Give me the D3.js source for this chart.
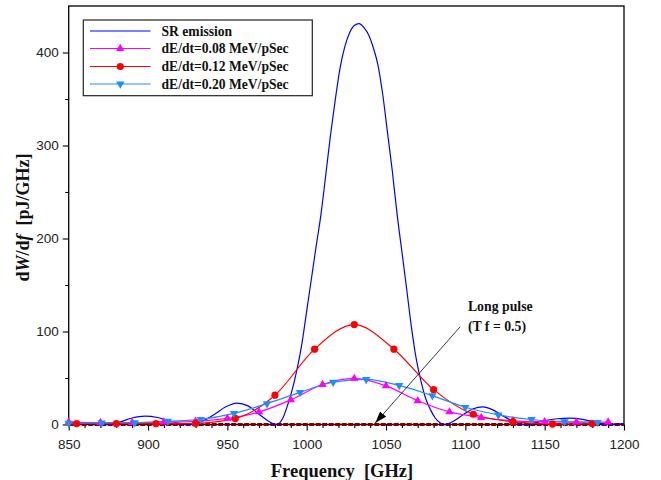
<!DOCTYPE html>
<html>
<head>
<meta charset="utf-8">
<script src="https://cdn.jsdelivr.net/npm/d3@7"></script>
<style>
  html, body { margin: 0; padding: 0; background: #fff; }
  svg { display: block; }
  text { white-space: pre; }
</style>
</head>
<body>
<div id="chart"></div>
<script>
// Spectral energy density dW/df of the emitted pulse versus frequency.

// Frequency axis ticks (GHz)
const xMajorTicks = [850, 900, 950, 1000, 1050, 1100, 1150, 1200];
const yMajorTicks = [0, 100, 200, 300, 400];

// SR emission spectrum (sampled curve)
const srFreq = [850, 860, 868, 875, 882, 890, 898, 906, 914, 920, 927, 935, 942, 949, 956, 963, 970, 976, 981,
  985, 988, 991, 994, 997, 1000, 1003, 1006, 1009, 1012, 1015, 1018, 1021, 1024, 1027, 1030, 1033, 1036, 1039,
  1042, 1045, 1048, 1051, 1054, 1057, 1060, 1063, 1066, 1069, 1072, 1075, 1078, 1081, 1084, 1087,
  1093, 1099, 1105, 1111, 1117, 1123, 1130, 1137, 1143, 1150, 1158, 1166, 1174, 1182, 1189, 1195, 1200];
const srValues = [2.5, 1.5, 0.4, 0, 2.5, 7, 9, 7.5, 3.5, 1.2, 0, 4, 11, 19, 23, 20, 11, 3.5, 0,
  7, 21, 38, 60, 87, 122, 157, 192, 226, 268, 311, 349, 383, 406, 421, 429, 431, 427, 419,
  405, 386, 354, 313, 272, 226, 186, 146, 105, 71, 47, 28, 16, 7, 2, 0,
  4, 11, 17, 19, 16, 10, 3.5, 0, 1.5, 4, 6.2, 6.8, 5.5, 2.5, 0, 0.5, 1];

// dE/dt = 0.08 MeV/pSec
const freq008 = [850, 870, 890, 910, 930, 950, 970, 990, 1010, 1030, 1050, 1070, 1090, 1110, 1130, 1150, 1170, 1190];
const values008 = [2.5, 2, 2, 2.5, 3.5, 6.5, 13.5, 26.5, 43, 49.5, 41.5, 25.5, 13.5, 7.5, 4, 3, 2.5, 2.5];

// dE/dt = 0.12 MeV/pSec
const freq012 = [855, 880, 905, 930, 955, 980, 1005, 1030, 1055, 1080, 1105, 1130, 1155, 1180];
const values012 = [1, 1, 1, 1.2, 6.5, 31.5, 81, 107.5, 81, 37.5, 11, 3, 0.5, 1];

// dE/dt = 0.20 MeV/pSec
const freq020 = [850, 870.8, 891.7, 912.5, 933.3, 954.2, 975, 995.8, 1016.7, 1037.5, 1058.3, 1079.2, 1100, 1120.8, 1141.7, 1162.5, 1183.3];
const values020 = [1.5, 1.8, 2, 3.5, 5.6, 12, 22.5, 34.5, 45.5, 48.5, 42, 31, 18.5, 10.3, 5.4, 3, 2.2];

// Long pulse (T f = 0.5)
const freqLong = [850, 1200];
const valuesLong = [0, 0];

const legendLabels = ["SR emission", "dE/dt=0.08 MeV/pSec", "dE/dt=0.12 MeV/pSec", "dE/dt=0.20 MeV/pSec"];

const W = 661, H = 480;
const plot = { left: 68.7, right: 624, top: 6, bottom: 424.5 };

const svg = d3.select("#chart").append("svg")
  .attr("width", W).attr("height", H)
  .attr("viewBox", `0 0 ${W} ${H}`);

const x = d3.scaleLinear().domain([850, 1200]).range([plot.left, plot.right]);
const y = d3.scaleLinear().domain([0, 450]).range([plot.bottom, plot.top]);

const serif = "'Liberation Serif', 'Times New Roman', serif";
const sans = "'Liberation Sans', Arial, sans-serif";

// clip (a little slack below so the baseline dash keeps its full width)
svg.append("defs").append("clipPath").attr("id", "plotClip")
  .append("rect")
  .attr("x", plot.left).attr("y", plot.top)
  .attr("width", plot.right - plot.left).attr("height", plot.bottom - plot.top + 3);

// minor ticks
const xMinor = d3.range(850, 1201, 10).filter(v => !xMajorTicks.includes(v));
const yMinor = [50, 150, 250, 350];

const xAxisMinor = svg.append("g").attr("transform", `translate(0,${plot.bottom})`)
  .call(d3.axisBottom(x).tickValues(xMinor).tickSize(3.5).tickFormat(""));
const xAxis = svg.append("g").attr("transform", `translate(0,${plot.bottom})`)
  .call(d3.axisBottom(x).tickValues(xMajorTicks).tickSize(6).tickPadding(9).tickFormat(d3.format("d")));
const yAxisMinor = svg.append("g").attr("transform", `translate(${plot.left},0)`)
  .call(d3.axisLeft(y).tickValues(yMinor).tickSize(3.5).tickFormat(""));
const yAxis = svg.append("g").attr("transform", `translate(${plot.left},0)`)
  .call(d3.axisLeft(y).tickValues(yMajorTicks).tickSize(6).tickPadding(4).tickFormat(d3.format("d")));

[xAxisMinor, xAxis, yAxisMinor, yAxis].forEach(g => {
  g.select(".domain").remove();
  g.selectAll(".tick line").attr("stroke", "#000").attr("stroke-width", 1.1);
  g.selectAll(".tick text").attr("font-family", sans).attr("font-size", 13.5).attr("fill", "#222");
});

// frame
svg.append("rect")
  .attr("x", plot.left).attr("y", plot.top)
  .attr("width", plot.right - plot.left).attr("height", plot.bottom - plot.top)
  .attr("fill", "none").attr("stroke", "#000").attr("stroke-width", 1.3);

const gPlot = svg.append("g").attr("clip-path", "url(#plotClip)");

function lineFor(xs, ys) {
  const pts = xs.map((f, i) => [f, ys[i]]);
  return d3.line().x(d => x(d[0])).y(d => y(d[1])).curve(d3.curveMonotoneX)(pts);
}

// long pulse
gPlot.append("path")
  .attr("d", lineFor(freqLong, valuesLong))
  .attr("fill", "none").attr("stroke", "#7a0000").attr("stroke-width", 2.8)
  .attr("stroke-dasharray", "5,1.5");

const series = [
  { xs: srFreq, ys: srValues, color: "#0000ff", symbol: null },
  { xs: freq008, ys: values008, color: "#ff00ff", symbol: "up" },
  { xs: freq012, ys: values012, color: "#ff0000", symbol: "circle" },
  { xs: freq020, ys: values020, color: "#1e8cff", symbol: "down" }
];

function drawSymbol(g, type, color, cx, cy) {
  if (type === "circle") {
    g.append("circle").attr("cx", cx).attr("cy", cy).attr("r", 3.6).attr("fill", color);
  } else if (type === "up") {
    g.append("path").attr("d", d3.symbol(d3.symbolTriangle, 30)())
      .attr("transform", `translate(${cx},${cy})`).attr("fill", color);
  } else if (type === "down") {
    g.append("path").attr("d", d3.symbol(d3.symbolTriangle, 30)())
      .attr("transform", `translate(${cx},${cy}) rotate(180)`).attr("fill", color);
  }
}

series.forEach(s => {
  gPlot.append("path")
    .attr("d", lineFor(s.xs, s.ys))
    .attr("fill", "none").attr("stroke", s.color).attr("stroke-width", 1.2);
});
series.forEach(s => {
  if (!s.symbol) return;
  const g = svg.append("g");
  s.xs.forEach((f, i) => drawSymbol(g, s.symbol, s.color, x(f), y(s.ys[i])));
});

// legend
const lg = svg.append("g");
lg.append("rect").attr("x", 83.3).attr("y", 20).attr("width", 229).attr("height", 75.7)
  .attr("fill", "#fff").attr("stroke", "#222").attr("stroke-width", 1.2);
const rowY = [31, 48.5, 66.5, 84];
series.forEach((s, i) => {
  lg.append("line").attr("x1", 90).attr("x2", 150.5).attr("y1", rowY[i]).attr("y2", rowY[i])
    .attr("stroke", s.color).attr("stroke-width", 1.2);
  if (s.symbol) drawSymbol(lg, s.symbol, s.color, 120.3, rowY[i]);
  lg.append("text").attr("x", 161.5).attr("y", rowY[i] + 4.6)
    .attr("font-family", serif).attr("font-weight", "bold").attr("font-size", 13.6)
    .attr("fill", "#111").text(legendLabels[i]);
});

// annotation with arrow
svg.append("defs").append("marker")
  .attr("id", "arrowHead").attr("viewBox", "0 0 12 8")
  .attr("refX", 12).attr("refY", 4)
  .attr("markerWidth", 12).attr("markerHeight", 8)
  .attr("markerUnits", "userSpaceOnUse").attr("orient", "auto")
  .append("path").attr("d", "M0,0 L12,4 L0,8 Z").attr("fill", "#000");

svg.append("line")
  .attr("x1", x(1096.7)).attr("y1", y(105))
  .attr("x2", x(1043.2)).attr("y2", y(1.5))
  .attr("stroke", "#222").attr("stroke-width", 0.9)
  .attr("marker-end", "url(#arrowHead)");

const ann = svg.append("g").attr("font-family", serif).attr("font-weight", "bold")
  .attr("font-size", 13.8).attr("fill", "#111");
ann.append("text").attr("x", x(1101.6)).attr("y", y(122.5)).text("Long pulse");
ann.append("text").attr("x", x(1101.6)).attr("y", y(100.5)).text("(T f = 0.5)");

// axis titles
svg.append("text")
  .attr("x", 342).attr("y", 476.5).attr("text-anchor", "middle")
  .attr("font-family", serif).attr("font-weight", "bold").attr("font-size", 18.5)
  .attr("fill", "#111")
  .text("Frequency  [GHz]");

const yt = svg.append("text")
  .attr("transform", `translate(29,217.5) rotate(-90)`)
  .attr("text-anchor", "middle")
  .attr("font-family", serif).attr("font-weight", "bold").attr("font-size", 18)
  .attr("fill", "#111");
yt.append("tspan").text("d");
yt.append("tspan").attr("font-style", "italic").text("W");
yt.append("tspan").text("/d");
yt.append("tspan").attr("font-style", "italic").text("f");
yt.append("tspan").text("  [pJ/GHz]");
</script>
</body>
</html>
